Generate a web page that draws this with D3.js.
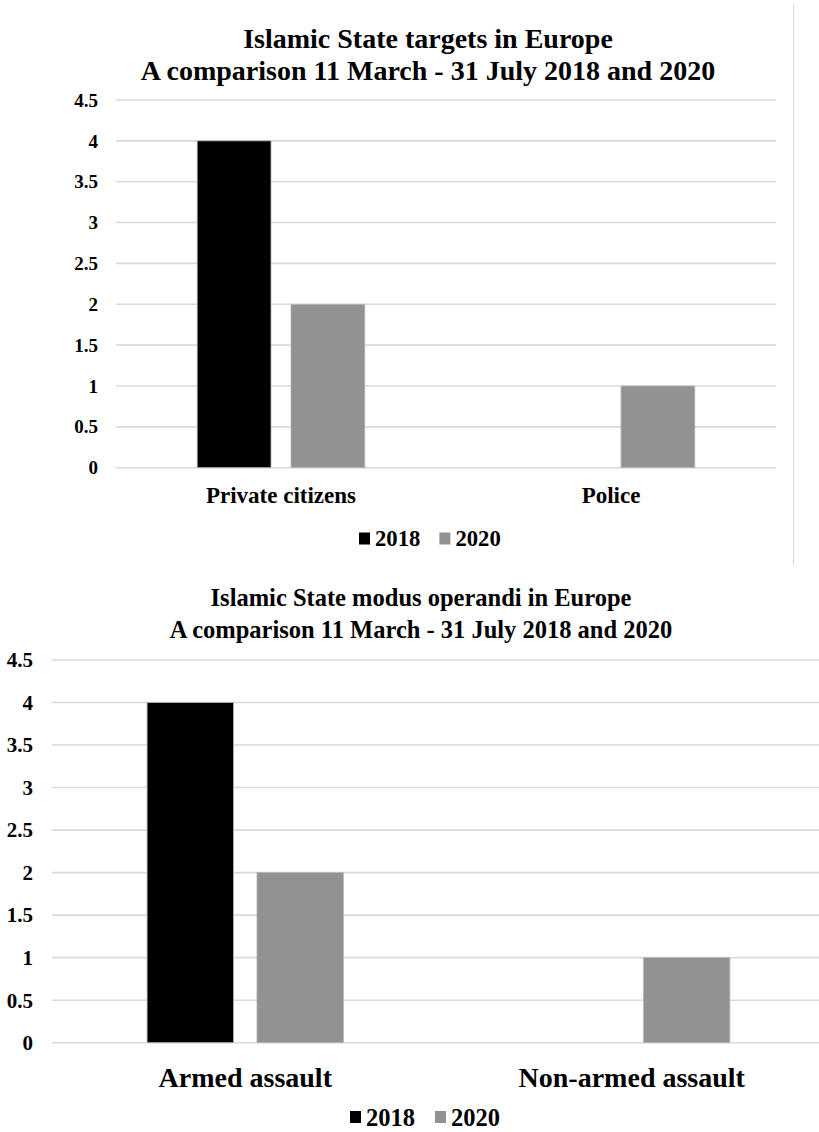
<!DOCTYPE html>
<html><head><meta charset="utf-8">
<script src="https://cdn.jsdelivr.net/npm/d3@7"></script>
</head><body style="margin:0;background:#fff">
<svg id="c" width="819" height="1132"></svg>
<script>
const series = ["2018", "2020"];
const colors = ["#000000", "#929292"];
const ticks = [0, 0.5, 1, 1.5, 2, 2.5, 3, 3.5, 4, 4.5];
const targetCategories = ["Private citizens", "Police"];
const targetValues2018 = [4, 0];
const targetValues2020 = [2, 1];
const targetTitle = ["Islamic State targets in Europe", "A comparison 11 March - 31 July 2018 and 2020"];
const modusCategories = ["Armed assault", "Non-armed assault"];
const modusValues2018 = [4, 0];
const modusValues2020 = [2, 1];
const modusTitle = ["Islamic State modus operandi in Europe", "A comparison 11 March - 31 July 2018 and 2020"];

const svg = d3.select("#c");

svg.append("line").attr("x1",793.5).attr("x2",793.5).attr("y1",5).attr("y2",565).attr("stroke","#d9d9d9").attr("stroke-width",1);

function txt(sel){ return sel.style("font-family", "'Liberation Serif'").attr("font-weight","bold").attr("fill","#000"); }

function chart(cfg){
  const g = svg.append("g");
  const x = d3.scaleBand().domain(cfg.categories).range([cfg.x0, cfg.x1]);
  const y = d3.scaleLinear().domain([0,4.5]).range([cfg.yb, cfg.yt]);
  const gw = x.bandwidth()*0.508;
  const inner = d3.scaleBand().domain(series).range([0, gw]).paddingInner(0.213);
  const off = (x.bandwidth() - gw)/2;
  g.append("g").selectAll("line").data(ticks).join("line")
    .attr("x1", cfg.x0).attr("x2", Math.min(cfg.x1, 819))
    .attr("y1", d=>y(d)).attr("y2", d=>y(d))
    .attr("stroke","#d9d9d9").attr("stroke-width",1.6);
  txt(g.append("g").selectAll("text").data(ticks).join("text"))
    .attr("x", cfg.labelX).attr("y", d=>y(d)).attr("dy","0.35em")
    .attr("text-anchor","end").attr("font-size", cfg.tickSize)
    .text(d=>d);
  const vals = [cfg.v2018, cfg.v2020];
  series.forEach((s,si)=>{
    g.append("g").selectAll("rect").data(cfg.categories).join("rect")
      .attr("x", c=>x(c)+off+inner(s))
      .attr("width", inner.bandwidth())
      .attr("y", (c,i)=>y(vals[si][i]))
      .attr("height", (c,i)=>y(0)-y(vals[si][i]))
      .attr("fill", colors[si])
      .attr("stroke", (c,i)=> vals[si][i] > 0 ? "#b8b8b8" : "none")
      .attr("stroke-width", 0.8);
  });
  txt(g.append("g").selectAll("text").data(cfg.categories).join("text"))
    .attr("x", c=>x(c)+x.bandwidth()/2).attr("y", cfg.catY)
    .attr("text-anchor","middle").attr("font-size", cfg.catSize).text(c=>c);
  cfg.title.forEach((t,i)=>{
    txt(g.append("text")).attr("x", cfg.titleX).attr("y", cfg.titleY + i*cfg.titleGap)
      .attr("text-anchor","middle").attr("font-size", cfg.titleSize).text(t);
  });
  const lg = g.append("g");
  let lx = cfg.legX;
  series.forEach((s,si)=>{
    lg.append("rect").attr("x", lx).attr("y", cfg.legY-6).attr("width",11).attr("height",12).attr("fill",colors[si]);
    const t = txt(lg.append("text")).attr("x", lx+16).attr("y", cfg.legY).attr("dy","0.35em")
      .attr("font-size", cfg.legSize).text(s);
    lx += 16 + t.node().getComputedTextLength() + cfg.legGap;
  });
}

chart({categories: targetCategories, v2018: targetValues2018, v2020: targetValues2020, title: targetTitle,
  x0:116, x1:776, yb:467.7, yt:100, labelX:98, tickSize:19, catY:503, catSize:23,
  titleX:428, titleY:48, titleGap:32, titleSize:28, legX:359, legY:538.5, legSize:22.7, legGap:19});

chart({categories: modusCategories, v2018: modusValues2018, v2020: modusValues2020, title: modusTitle,
  x0:52, x1:825, yb:1042.7, yt:660, labelX:33, tickSize:21, catY:1087, catSize:28,
  titleX:421, titleY:606, titleGap:32, titleSize:24.5, legX:350, legY:1117, legSize:24.5, legGap:20});
</script>
</body></html>
